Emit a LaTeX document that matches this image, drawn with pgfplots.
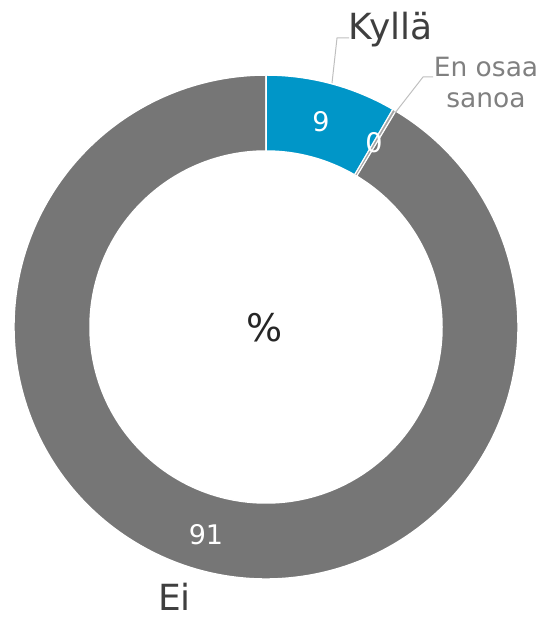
\documentclass[border=0pt]{standalone}
\usepackage{fontspec}
\setmainfont{DejaVu Sans}
\usepackage{pgfplots}
\usepackage{pgfplotstable}
\pgfplotsset{compat=1.18}
\definecolor{cBlue}{HTML}{0096C8}
\definecolor{cGray}{HTML}{767676}
\definecolor{cEos}{HTML}{A5A5A5}
\definecolor{cText}{HTML}{3F3F3F}
\definecolor{cText2}{HTML}{808080}
\definecolor{cLead}{HTML}{BFBFBF}
\pgfplotstableread{
idx value
0 8.4
1 0.2
2 91.4
}\donutdata
\begin{document}
\begin{tikzpicture}
\pgfplotstablegetelem{0}{value}\of\donutdata \let\vA\pgfplotsretval
\pgfplotstablegetelem{1}{value}\of\donutdata \let\vB\pgfplotsretval
\pgfplotstablegetelem{2}{value}\of\donutdata \let\vC\pgfplotsretval
\pgfmathsetmacro{\aO}{90}
\pgfmathsetmacro{\aA}{90-3.6*\vA}
\pgfmathsetmacro{\aB}{\aA-3.6*\vB}
\pgfmathsetmacro{\aC}{\aB-3.6*\vC}
\def\R{252bp}\def\r{176bp}\def\w{-76bp}
\begin{axis}[name=ax, x=1bp, y=1bp, xmin=0, xmax=539, ymin=0, ymax=619,
  hide axis, scale only axis, clip=false]
\fill[cGray, draw=white, line width=1.5bp] (axis cs:266,292) ++(\aB:\R) arc[start angle=\aB, end angle=\aC, radius=\R] -- ++(\aC:\w) arc[start angle=\aC, end angle=\aB, radius=\r] -- cycle;
\fill[cBlue, draw=white, line width=1.5bp] (axis cs:266,292) ++(\aO:\R) arc[start angle=\aO, end angle=\aA, radius=\R] -- ++(\aA:\w) arc[start angle=\aA, end angle=\aO, radius=\r] -- cycle;
\fill[cEos, draw=white, line width=1bp] (axis cs:266,292) ++(\aA:\R) arc[start angle=\aA, end angle=\aB, radius=\R] -- ++(\aB:\w) arc[start angle=\aB, end angle=\aA, radius=\r] -- cycle;
% leader lines
\draw[cLead, line width=1bp] (axis cs:332,536) -- (axis cs:337,581) -- (axis cs:349,581);
\draw[cLead, line width=1bp] (axis cs:395,506) -- (axis cs:423,542) -- (axis cs:433,542);
% value labels
\node[white, font=\fontsize{27bp}{30bp}\selectfont] at (axis cs:321,497) {9};
\node[white, font=\fontsize{27bp}{30bp}\selectfont] at (axis cs:374,476) {0};
\node[white, font=\fontsize{27bp}{30bp}\selectfont] at (axis cs:206,84) {91};
\node[black!85, font=\fontsize{38bp}{42bp}\selectfont] at (axis cs:265,291) {\%};
% category labels
\node[cText, anchor=base west, inner sep=0pt, font=\fontsize{36bp}{40bp}\selectfont] at (axis cs:348,579) {Kyllä};
\node[cText2, anchor=base, inner sep=0pt, font=\fontsize{26.5bp}{31bp}\selectfont] at (axis cs:486,542) {En osaa};
\node[cText2, anchor=base, inner sep=0pt, font=\fontsize{26.5bp}{31bp}\selectfont] at (axis cs:486,511) {sanoa};
\node[cText, anchor=base west, inner sep=0pt, font=\fontsize{36bp}{40bp}\selectfont] at (axis cs:158,8) {Ei};
\end{axis}
\pgfresetboundingbox
\path (ax.south west) rectangle (ax.north east);
\end{tikzpicture}
\end{document}
